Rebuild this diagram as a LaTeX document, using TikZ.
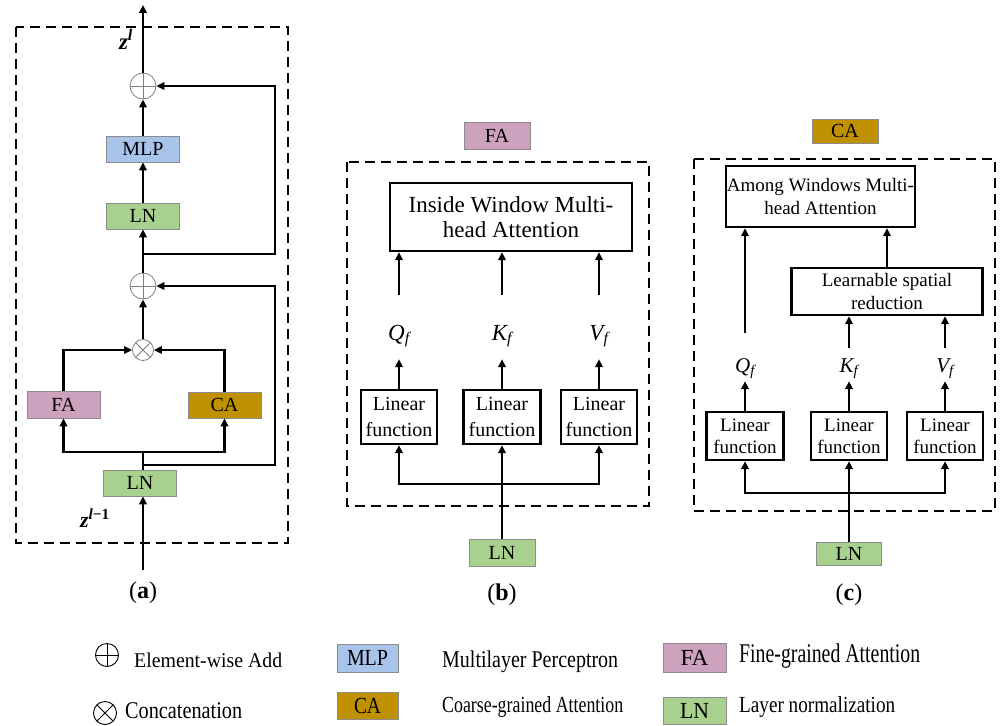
\documentclass[tikz,border=0pt]{standalone}
\usepackage{fontspec}
\usepackage{graphicx}
\setmainfont{Liberation Serif}
\usetikzlibrary{arrows.meta}
\definecolor{mlpblue}{HTML}{A9C4EB}
\definecolor{lngreen}{HTML}{A9D18E}
\definecolor{fapink}{HTML}{CDA2BF}
\definecolor{cagold}{HTML}{BF9000}
\newcommand{\myfs}[1]{\fontsize{#1}{#1}\selectfont}
\begin{document}
\begin{tikzpicture}[x=1pt,y=-1pt,
  cbox/.style={draw=black!45, line width=0.7pt, minimum width=73pt, minimum height=26pt, inner sep=0pt, font=\myfs{20}},
  wbox/.style={draw=black, line width=2.4pt, fill=white, inner sep=0pt, align=center},
  conn/.style={line width=2.5pt, -{Triangle[length=8pt,width=7.5pt]}},
  plainline/.style={line width=2.5pt},
  dashbox/.style={line width=2.5pt, dash pattern=on 10pt off 6pt},
  oplusn/.style={circle, draw=black!50, line width=0.8pt, fill=white, minimum size=26pt, inner sep=0pt,
    path picture={\draw[black!50, line width=0.8pt] (path picture bounding box.north) -- (path picture bounding box.south)
      (path picture bounding box.west) -- (path picture bounding box.east);}},
  otimesn/.style={circle, draw=black!50, line width=0.8pt, fill=white, minimum size=21pt, inner sep=0pt,
    path picture={\draw[black!50, line width=0.8pt] (path picture bounding box.north west) -- (path picture bounding box.south east)
      (path picture bounding box.north east) -- (path picture bounding box.south west);}},
  legplus/.style={circle, draw=black, line width=0.9pt, minimum size=23pt, inner sep=0pt,
    path picture={\draw[black, line width=0.9pt] (path picture bounding box.north) -- (path picture bounding box.south)
      (path picture bounding box.west) -- (path picture bounding box.east);}},
  legtimes/.style={circle, draw=black, line width=0.9pt, minimum size=23pt, inner sep=0pt,
    path picture={\draw[black, line width=0.9pt] (path picture bounding box.north west) -- (path picture bounding box.south east)
      (path picture bounding box.north east) -- (path picture bounding box.south west);}},
  qlab/.style={inner sep=0pt, anchor=base, font=\myfs{23}\itshape},
  qlabc/.style={inner sep=0pt, anchor=base, font=\myfs{21}\itshape},
  plab/.style={font=\myfs{24}},
  legtxt/.style={anchor=base west, inner sep=0pt}
]
\useasboundingbox (0,0) rectangle (1000,725);

% ================= panel (a) =================
\draw[dashbox] (16,27) rectangle (288,543);
\node[oplusn] (add1) at (143,86) {};
\node[oplusn] (add2) at (143,286) {};
\node[otimesn] (cat) at (143,350) {};
\node[cbox, fill=mlpblue] (mlp) at (143,149) {MLP};
\node[cbox, fill=lngreen] (ln1) at (143,216) {LN};
\node[cbox, fill=fapink, minimum height=27pt] (fa) at (63.5,404.5) {FA};
\node[cbox, fill=cagold] (ca) at (224.5,405) {CA};
\node[cbox, fill=lngreen] (ln0) at (140,483) {LN};
\coordinate (top) at (143,5);
\coordinate (inp) at (143,570);
\coordinate (fb1) at (143,254);
\coordinate (r1) at (275,254);
\coordinate (fb2) at (143,465);
\coordinate (r2) at (275,465);
\coordinate (br) at (143,452);

\draw[conn] (add1) -- (top);
\draw[conn] (mlp) -- (add1);
\draw[conn] (ln1) -- (mlp);
\draw[conn] (add2) -- (ln1);
\draw[conn] (cat) -- (add2);
\draw[conn] (fa.north) |- (cat.west);
\draw[conn] (ca.north) |- (cat.east);
\draw[plainline] (ln0.north -| inp) -- (br);
\draw[conn] (br) -| (fa.south);
\draw[conn] (br) -| (ca.south);
\draw[conn] (fb1) -- (r1) |- (add1.east);
\draw[conn] (fb2) -- (r2) |- (add2.east);
\draw[conn] (inp) -- (inp |- ln0.south);

\node[font=\myfs{23}, anchor=base] (zl) at (126,50) {\textbf{\textit{z}}\textsuperscript{\textbf{\textit{l}}}};
\node[font=\myfs{22}, anchor=base] (zl1) at (95,527) {\textbf{\textit{z}}\textsuperscript{\textbf{\textit{l}−1}}};
\node[plab] (pa) at (143,593) {(\textbf{a})};

% ================= panel (b) =================
\node[cbox, fill=fapink, minimum width=66pt, minimum height=27pt] (fat) at (497,135.5) {FA};
\draw[dashbox] (347,162) rectangle (649,506);
\node[wbox, minimum width=242pt, minimum height=68pt, font=\fontsize{23}{25}\selectfont] (iw) at (511,217) {Inside Window Multi-\\head Attention};
\node[wbox, minimum width=76pt, minimum height=54pt, font=\fontsize{20}{26}\selectfont] (lb1) at (399,417) {Linear\\function};
\node[wbox, minimum width=77pt, minimum height=54pt, font=\fontsize{20}{26}\selectfont] (lb2) at (502,417) {Linear\\function};
\node[wbox, minimum width=76pt, minimum height=54pt, font=\fontsize{20}{26}\selectfont] (lb3) at (599,417) {Linear\\function};
\node[qlab, text height=45pt, text depth=19pt] (qb) at (399,340) {Q\textsubscript{f}};
\node[qlab, text height=45pt, text depth=19pt] (kb) at (502,340) {K\textsubscript{f}};
\node[qlab, text height=45pt, text depth=19pt] (vb) at (599,340) {V\textsubscript{f}};
\node[cbox, fill=lngreen, minimum width=66pt, minimum height=27pt] (lnb) at (502,552.5) {LN};
\coordinate (brb) at (502,484);

\draw[conn] (lb1) -- (qb);
\draw[conn] (lb2) -- (kb);
\draw[conn] (lb3) -- (vb);
\draw[conn] (qb) -- (qb |- iw.south);
\draw[conn] (kb) -- (kb |- iw.south);
\draw[conn] (vb) -- (vb |- iw.south);
\draw[conn] (lnb) -- (lb2);
\draw[conn] (brb) -| (lb1.south);
\draw[conn] (brb) -| (lb3.south);
\node[plab] (pb) at (502,595) {(\textbf{b})};

% ================= panel (c) =================
\node[cbox, fill=cagold, minimum width=66pt, minimum height=24pt] (cat2) at (845,131) {CA};
\draw[dashbox] (694,159) rectangle (995,511);
\node[wbox, minimum width=189pt, minimum height=61pt, font=\fontsize{19}{23.5}\selectfont] (aw) at (820.5,196.5) {Among Windows Multi-\\head Attention};
\node[wbox, minimum width=191pt, minimum height=47pt, font=\fontsize{19}{23}\selectfont] (lsr) at (887,291.5) {Learnable spatial\\reduction};
\node[wbox, minimum width=77pt, minimum height=48pt, font=\fontsize{19}{22}\selectfont] (lc1) at (745,436) {Linear\\function};
\node[wbox, minimum width=76pt, minimum height=48pt, font=\fontsize{19}{22}\selectfont] (lc2) at (849,436) {Linear\\function};
\node[wbox, minimum width=76pt, minimum height=48pt, font=\fontsize{19}{22}\selectfont] (lc3) at (945,436) {Linear\\function};
\node[qlabc, text height=39pt, text depth=9pt] (qc) at (745,372) {Q\textsubscript{f}};
\node[qlabc, text height=24pt, text depth=9pt] (kc) at (849,372) {K\textsubscript{f}};
\node[qlabc, text height=24pt, text depth=9pt] (vc) at (945,372) {V\textsubscript{f}};
\node[cbox, fill=lngreen, minimum width=65pt, minimum height=23pt] (lnc) at (849,553.5) {LN};
\coordinate (brc) at (849,493);

\draw[conn] (lc1) -- (qc);
\draw[conn] (lc2) -- (kc);
\draw[conn] (lc3) -- (vc);
\draw[conn] (qc) -- (qc |- aw.south);
\draw[conn] (kc) -- (kc |- lsr.south);
\draw[conn] (vc) -- (vc |- lsr.south);
\draw[conn] (lsr.north) -- (lsr.north |- aw.south);
\draw[conn] (lnc) -- (lc2);
\draw[conn] (brc) -| (lc1.south);
\draw[conn] (brc) -| (lc3.south);
\node[plab] (pc) at (849,595) {(\textbf{c})};

% ================= legend =================
\node[legplus] (lgp) at (107,655) {};
\node[legtimes] (lgt) at (105,713) {};
\node[legtxt, font=\myfs{21}] (lt1) at (134,667) {\resizebox{148pt}{\height}{Element-wise Add}};
\node[legtxt, font=\myfs{24}] (lt2) at (125,718) {\resizebox{117pt}{\height}{Concatenation}};
\node[cbox, fill=mlpblue, minimum width=61pt, minimum height=28pt, font=\myfs{23}] (lgm) at (367.5,658) {\resizebox{41pt}{\height}{MLP}};
\node[cbox, fill=cagold, minimum width=61pt, minimum height=27pt, font=\myfs{23}] (lgc) at (367.5,705.5) {\resizebox{27pt}{\height}{CA}};
\node[legtxt, font=\myfs{24}] (lt3) at (442,667) {\resizebox{176pt}{\height}{Multilayer Perceptron}};
\node[legtxt, font=\myfs{23}] (lt4) at (442,712) {\resizebox{181pt}{\height}{Coarse-grained Attention}};
\node[cbox, fill=fapink, minimum width=63pt, minimum height=29pt, font=\myfs{23}] (lgf) at (694.5,657.5) {\resizebox{28pt}{\height}{FA}};
\node[cbox, fill=lngreen, minimum width=63pt, minimum height=27pt, font=\myfs{23}] (lgl) at (694.5,710.5) {\resizebox{29pt}{\height}{LN}};
\node[legtxt, font=\myfs{27}] (lt5) at (739,662) {\resizebox{181pt}{\height}{Fine-grained Attention}};
\node[legtxt, font=\myfs{23}] (lt6) at (739,712) {\resizebox{156pt}{\height}{Layer normalization}};
\end{tikzpicture}
\end{document}
